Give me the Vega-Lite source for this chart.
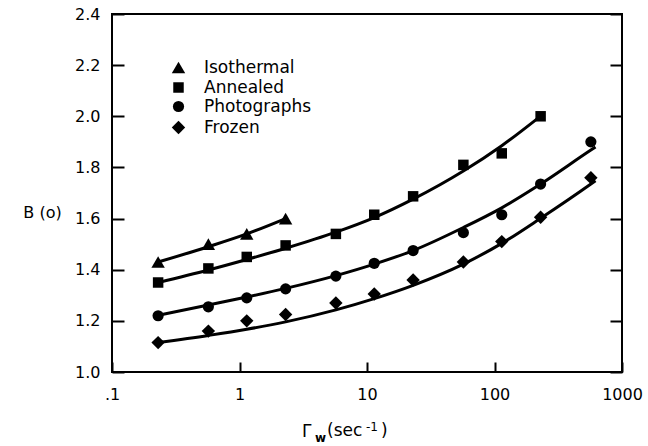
{
  "$schema": "https://vega.github.io/schema/vega-lite/v6.json",
  "width": 510,
  "height": 358,
  "autosize": {"type": "none"},
  "padding": {"left": 112, "top": 14, "right": 26, "bottom": 74},
  "background": "white",
  "config": {
    "view": {"stroke": "black", "strokeWidth": 2},
    "font": "DejaVu Sans",
    "axis": {
      "domain": false,
      "grid": false,
      "labelFont": "DejaVu Sans",
      "labelFontSize": 16,
      "labelColor": "black",
      "tickColor": "black",
      "tickOpacity": 1,
      "tickWidth": 2,
      "titleFont": "DejaVu Sans",
      "titleColor": "black",
      "titleFontWeight": "normal"
    },
    "legend": {
      "orient": "none",
      "legendX": 58,
      "legendY": 45,
      "padding": 0,
      "labelFont": "DejaVu Sans",
      "labelFontSize": 17,
      "labelColor": "black",
      "labelOffset": 17,
      "rowPadding": 1,
      "symbolFillColor": "black",
      "symbolStrokeColor": "black",
      "symbolOpacity": 1
    }
  },
  "datasets": {
    "points": [
      {"series": "Isothermal", "rate": 0.23, "B": 1.43},
      {"series": "Isothermal", "rate": 0.57, "B": 1.5},
      {"series": "Isothermal", "rate": 1.14, "B": 1.54},
      {"series": "Isothermal", "rate": 2.3, "B": 1.6},
      {"series": "Annealed", "rate": 0.23, "B": 1.35},
      {"series": "Annealed", "rate": 0.57, "B": 1.405},
      {"series": "Annealed", "rate": 1.14, "B": 1.45},
      {"series": "Annealed", "rate": 2.3, "B": 1.495},
      {"series": "Annealed", "rate": 5.7, "B": 1.54},
      {"series": "Annealed", "rate": 11.4, "B": 1.615},
      {"series": "Annealed", "rate": 23, "B": 1.687},
      {"series": "Annealed", "rate": 57, "B": 1.81},
      {"series": "Annealed", "rate": 114, "B": 1.855},
      {"series": "Annealed", "rate": 230, "B": 2.0},
      {"series": "Photographs", "rate": 0.23, "B": 1.22},
      {"series": "Photographs", "rate": 0.57, "B": 1.255},
      {"series": "Photographs", "rate": 1.14, "B": 1.29},
      {"series": "Photographs", "rate": 2.3, "B": 1.325},
      {"series": "Photographs", "rate": 5.7, "B": 1.375},
      {"series": "Photographs", "rate": 11.4, "B": 1.425},
      {"series": "Photographs", "rate": 23, "B": 1.475},
      {"series": "Photographs", "rate": 57, "B": 1.545},
      {"series": "Photographs", "rate": 114, "B": 1.615},
      {"series": "Photographs", "rate": 230, "B": 1.735},
      {"series": "Photographs", "rate": 570, "B": 1.9},
      {"series": "Frozen", "rate": 0.23, "B": 1.115},
      {"series": "Frozen", "rate": 0.57, "B": 1.16},
      {"series": "Frozen", "rate": 1.14, "B": 1.2},
      {"series": "Frozen", "rate": 2.3, "B": 1.225},
      {"series": "Frozen", "rate": 5.7, "B": 1.27},
      {"series": "Frozen", "rate": 11.4, "B": 1.305},
      {"series": "Frozen", "rate": 23, "B": 1.36},
      {"series": "Frozen", "rate": 57, "B": 1.43},
      {"series": "Frozen", "rate": 114, "B": 1.51},
      {"series": "Frozen", "rate": 230, "B": 1.605},
      {"series": "Frozen", "rate": 570, "B": 1.76}
    ],
    "curves": [
      {"series": "Isothermal", "rate": 0.23, "B": 1.43},
      {"series": "Isothermal", "rate": 0.57, "B": 1.49},
      {"series": "Isothermal", "rate": 1.14, "B": 1.54},
      {"series": "Isothermal", "rate": 2.3, "B": 1.6},
      {"series": "Annealed", "rate": 0.23, "B": 1.35},
      {"series": "Annealed", "rate": 0.57, "B": 1.399},
      {"series": "Annealed", "rate": 1.14, "B": 1.44},
      {"series": "Annealed", "rate": 2.3, "B": 1.484},
      {"series": "Annealed", "rate": 5.7, "B": 1.547},
      {"series": "Annealed", "rate": 11.4, "B": 1.604},
      {"series": "Annealed", "rate": 23, "B": 1.676},
      {"series": "Annealed", "rate": 57, "B": 1.786},
      {"series": "Annealed", "rate": 114, "B": 1.885},
      {"series": "Annealed", "rate": 230, "B": 2.001},
      {"series": "Photographs", "rate": 0.23, "B": 1.222},
      {"series": "Photographs", "rate": 0.57, "B": 1.262},
      {"series": "Photographs", "rate": 1.14, "B": 1.293},
      {"series": "Photographs", "rate": 2.3, "B": 1.327},
      {"series": "Photographs", "rate": 5.7, "B": 1.377},
      {"series": "Photographs", "rate": 11.4, "B": 1.422},
      {"series": "Photographs", "rate": 23, "B": 1.475},
      {"series": "Photographs", "rate": 57, "B": 1.565},
      {"series": "Photographs", "rate": 114, "B": 1.642},
      {"series": "Photographs", "rate": 230, "B": 1.735},
      {"series": "Photographs", "rate": 570, "B": 1.868},
      {"series": "Photographs", "rate": 620, "B": 1.88},
      {"series": "Frozen", "rate": 0.23, "B": 1.115},
      {"series": "Frozen", "rate": 0.57, "B": 1.143},
      {"series": "Frozen", "rate": 1.14, "B": 1.167},
      {"series": "Frozen", "rate": 2.3, "B": 1.196},
      {"series": "Frozen", "rate": 5.7, "B": 1.243},
      {"series": "Frozen", "rate": 11.4, "B": 1.287},
      {"series": "Frozen", "rate": 23, "B": 1.339},
      {"series": "Frozen", "rate": 57, "B": 1.422},
      {"series": "Frozen", "rate": 114, "B": 1.503},
      {"series": "Frozen", "rate": 230, "B": 1.601},
      {"series": "Frozen", "rate": 570, "B": 1.735},
      {"series": "Frozen", "rate": 620, "B": 1.748}
    ]
  },
  "layer": [
    {
      "data": {"name": "curves"},
      "mark": {"type": "line", "color": "black", "strokeWidth": 3, "interpolate": "monotone"},
      "encoding": {
        "x": {
          "field": "rate",
          "type": "quantitative",
          "scale": {"type": "log", "domain": [0.1, 1000]},
          "axis": {
            "orient": "bottom",
            "values": [0.1, 1, 10, 100, 1000],
            "ticks": false,
            "labelPadding": 14,
            "labelFlush": false,
            "labelOverlap": false,
            "labelExpr": "datum.value < 1 ? '.1' : format(datum.value, 'd')",
            "title": null
          }
        },
        "y": {
          "field": "B",
          "type": "quantitative",
          "scale": {"domain": [1.0, 2.4]},
          "axis": {
            "orient": "left",
            "values": [1.0, 1.2, 1.4, 1.6, 1.8, 2.0, 2.2, 2.4],
            "format": ".1f",
            "ticks": false,
            "labelPadding": 12,
            "labelFlush": false,
            "labelOverlap": false,
            "title": "B (o)",
            "titleAngle": 0,
            "titleX": -70,
            "titleY": 198,
            "titleAlign": "center",
            "titleBaseline": "middle",
            "titleFontSize": 16
          }
        },
        "detail": {"field": "series", "type": "nominal"}
      }
    },
    {
      "data": {"name": "points"},
      "mark": {"type": "point", "filled": true, "color": "black", "opacity": 1},
      "encoding": {
        "x": {
          "field": "rate",
          "type": "quantitative",
          "axis": {
            "orient": "bottom",
            "values": [0.1, 1, 10, 100, 1000],
            "offset": -10,
            "tickSize": 10,
            "labels": false,
            "title": null
          }
        },
        "y": {
          "field": "B",
          "type": "quantitative",
          "axis": {
            "orient": "right",
            "values": [1.0, 1.2, 1.4, 1.6, 1.8, 2.0, 2.2, 2.4],
            "offset": -12,
            "tickSize": 12,
            "labels": false,
            "title": null
          }
        },
        "shape": {
          "field": "series",
          "type": "nominal",
          "scale": {
            "domain": ["Isothermal", "Annealed", "Photographs", "Frozen"],
            "range": ["triangle-up", "square", "circle", "diamond"]
          },
          "legend": {"title": null}
        },
        "size": {
          "field": "series",
          "type": "nominal",
          "scale": {
            "type": "ordinal",
            "domain": ["Isothermal", "Annealed", "Photographs", "Frozen"],
            "range": [180, 110, 125, 180]
          },
          "legend": {"title": null}
        }
      }
    },
    {
      "data": {"values": [{}]},
      "mark": {"type": "text", "text": "Γ", "align": "left", "baseline": "alphabetic", "fontSize": 17, "color": "black"},
      "encoding": {
        "x": {"datum": 3.09, "type": "quantitative", "axis": null},
        "y": {
          "datum": 0.746,
          "type": "quantitative",
          "axis": {
            "orient": "left",
            "values": [1.0, 1.2, 1.4, 1.6, 1.8, 2.0, 2.2, 2.4],
            "offset": -12,
            "tickSize": 12,
            "labels": false,
            "title": null
          }
        }
      }
    },
    {
      "data": {"values": [{}]},
      "mark": {"type": "text", "text": "w", "align": "left", "baseline": "alphabetic", "fontSize": 12, "fontWeight": "bold", "color": "black"},
      "encoding": {
        "x": {"datum": 3.91, "type": "quantitative", "axis": null},
        "y": {"datum": 0.727, "type": "quantitative", "axis": null}
      }
    },
    {
      "data": {"values": [{}]},
      "mark": {"type": "text", "text": "(sec", "align": "left", "baseline": "alphabetic", "fontSize": 17, "color": "black"},
      "encoding": {
        "x": {"datum": 4.86, "type": "quantitative", "axis": null},
        "y": {"datum": 0.75, "type": "quantitative", "axis": null}
      }
    },
    {
      "data": {"values": [{}]},
      "mark": {"type": "text", "text": "-1", "align": "left", "baseline": "alphabetic", "fontSize": 12, "color": "black"},
      "encoding": {
        "x": {"datum": 9.82, "type": "quantitative", "axis": null},
        "y": {"datum": 0.771, "type": "quantitative", "axis": null}
      }
    },
    {
      "data": {"values": [{}]},
      "mark": {"type": "text", "text": ")", "align": "left", "baseline": "alphabetic", "fontSize": 17, "color": "black"},
      "encoding": {
        "x": {"datum": 12.9, "type": "quantitative", "axis": null},
        "y": {"datum": 0.75, "type": "quantitative", "axis": null}
      }
    }
  ],
  "resolve": {"axis": {"x": "independent", "y": "independent"}}
}
